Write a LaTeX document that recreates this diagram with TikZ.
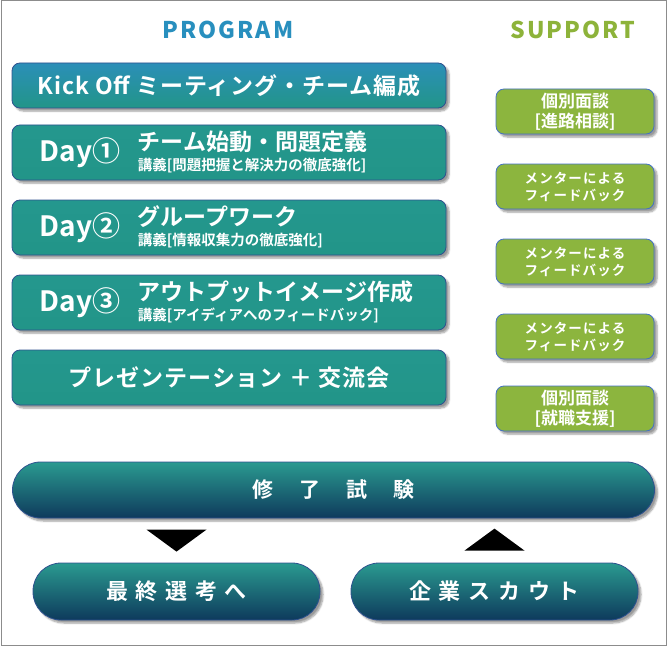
\documentclass[tikz,border=0pt]{standalone}
\usepackage{fontspec}
\newfontfamily\jp{Noto Sans CJK JP Bold}
\newfontfamily\jphead[LetterSpace=9]{Noto Sans CJK JP Black}
\newfontfamily\jpsup[LetterSpace=8]{Noto Sans CJK JP Bold}
\newfontfamily\jpkick[LetterSpace=4]{Noto Sans CJK JP Bold}
\newfontfamily\jpwide[LetterSpace=35]{Noto Sans CJK JP Bold}
\usetikzlibrary{shadows.blur}

\definecolor{progblue}{RGB}{40,143,190}
\definecolor{suppgreen}{RGB}{141,179,58}
\definecolor{kicktop}{RGB}{43,143,184}
\definecolor{teal1}{RGB}{36,151,142}
\definecolor{teal2}{RGB}{34,149,136}
\definecolor{boxline}{RGB}{47,82,143}
\definecolor{greenfill}{RGB}{140,181,62}
\definecolor{greenline}{RGB}{68,114,196}
\definecolor{pilltop}{RGB}{42,154,144}
\definecolor{pillbottom}{RGB}{14,58,92}

\begin{document}
\begin{tikzpicture}[x=1pt,y=-1pt,node distance=75pt]

% Define block styles
\tikzstyle{prog} = [rectangle, rounded corners=8pt, minimum width=434pt, minimum height=55pt, draw=boxline, line width=0.8pt, top color=teal1, bottom color=teal2, text=white, blur shadow={shadow xshift=3pt, shadow yshift=-3pt, shadow blur steps=6}]
\tikzstyle{supp} = [rectangle, rounded corners=8pt, minimum width=158pt, minimum height=45pt, draw=greenline, line width=0.8pt, fill=greenfill, text=white, align=center, blur shadow={shadow xshift=3pt, shadow yshift=-3pt, shadow blur steps=6}]
\tikzstyle{pill} = [rectangle, rounded corners=28pt, minimum height=57pt, draw=boxline, line width=0.8pt, top color=pilltop, bottom color=pillbottom, text=white, blur shadow={shadow xshift=3pt, shadow yshift=-3pt, shadow blur steps=6}]
\tikzstyle{daynum} = [anchor=west, text=white, inner sep=0pt, font=\jp\fontsize{28}{30}\selectfont]
\tikzstyle{daytitle} = [anchor=west, text=white, inner sep=0pt, font=\jp\fontsize{23}{25}\selectfont]
\tikzstyle{daysub} = [anchor=west, text=white, inner sep=0pt, font=\jp\fontsize{14.5}{16}\selectfont]

% Frame
\useasboundingbox (0,0) rectangle (668,647);
\draw[black!45, line width=1pt] (1,1) rectangle (666,645);

% Headings
\node (program) at (228,30) [text=progblue, font=\jphead\fontsize{23}{25}\selectfont] {PROGRAM};
\node (support) at (573,30) [text=suppgreen, font=\jphead\fontsize{23}{25}\selectfont] {SUPPORT};

% Program column
\node (kick) at (229,85.5) [prog, minimum height=45pt, top color=kicktop, font=\jpkick\fontsize{23}{25}\selectfont] {Kick Off ミーティング・チーム編成};
\node (day1) at (229,152.5) [prog] {};
\node (day2) [prog, below of = day1] {};
\node (day3) [prog, below of = day2] {};
\node (pres) [prog, below of = day3, font=\jpkick\fontsize{23}{25}\selectfont] {プレゼンテーション ＋ 交流会};

\node (day1num) at ([xshift=28pt]day1.west) [daynum] {Day①};
\node (day1title) at ([xshift=126pt,yshift=10.5pt]day1.west) [daytitle] {チーム始動・問題定義};
\node (day1sub) at ([xshift=126pt,yshift=-13pt]day1.west) [daysub] {講義[問題把握と解決力の徹底強化]};

\node (day2num) at ([xshift=28pt]day2.west) [daynum] {Day②};
\node (day2title) at ([xshift=126pt,yshift=10.5pt]day2.west) [daytitle] {グループワーク};
\node (day2sub) at ([xshift=126pt,yshift=-13pt]day2.west) [daysub] {講義[情報収集力の徹底強化]};

\node (day3num) at ([xshift=28pt]day3.west) [daynum] {Day③};
\node (day3title) at ([xshift=126pt,yshift=10.5pt]day3.west) [daytitle] {アウトプットイメージ作成};
\node (day3sub) at ([xshift=126pt,yshift=-13pt]day3.west) [daysub] {講義[アイディアへのフィードバック]};

% Support column
\node (talk1) at (575,111.5) [supp, font=\jp\fontsize{17}{20}\selectfont] {個別面談\\{[進路相談]}};
\node (fb1) [supp, below of = talk1, font=\jpsup\fontsize{13.5}{17}\selectfont] {メンターによる\\フィードバック};
\node (fb2) [supp, below of = fb1, font=\jpsup\fontsize{13.5}{17}\selectfont] {メンターによる\\フィードバック};
\node (fb3) [supp, below of = fb2, font=\jpsup\fontsize{13.5}{17}\selectfont] {メンターによる\\フィードバック};
\node (talk2) at (575,408.5) [supp, font=\jp\fontsize{17}{20}\selectfont] {個別面談\\{[就職支援]}};

% Exam and outcomes
\node (exam) at (333.5,490) [pill, minimum width=642pt, minimum height=56pt, font=\jp\fontsize{21}{24}\selectfont] {修\hspace{26pt}了\hspace{26pt}試\hspace{26pt}験};
\node (final) at (176.5,591.5) [pill, minimum width=287pt, font=\jpwide\fontsize{22}{24}\selectfont] {最終選考へ};
\node (scout) at (494.5,591.5) [pill, minimum width=287pt, font=\jpwide\fontsize{22}{24}\selectfont] {企業スカウト};

% Draw arrows
\fill (final.north) ++(-30pt,33pt) -- ++(60pt,0pt) -- ++(-30pt,-22pt) -- cycle;
\fill (scout.north) ++(-30pt,12pt) -- ++(60pt,0pt) -- ++(-30pt,22pt) -- cycle;

\end{tikzpicture}
\end{document}
